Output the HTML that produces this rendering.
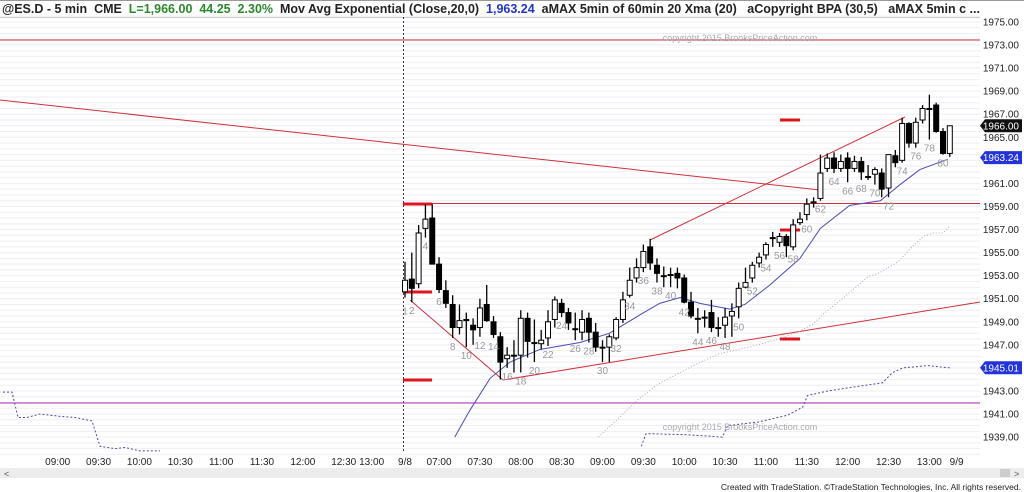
<!DOCTYPE html>
<html><head><meta charset="utf-8"><style>
body{margin:0;background:#fff;width:1024px;height:492px;overflow:hidden;font-family:"Liberation Sans",Arial,sans-serif}
svg{display:block}
text{white-space:pre}
</style></head><body>
<svg id="chart" width="1024" height="492" xmlns="http://www.w3.org/2000/svg">
<rect x="0" y="0" width="1024" height="492" fill="#fff"/>
<g id="grid"></g>
<g id="overlays"></g>
<g id="inds"></g>
<g id="candles"></g>
<g id="labels"></g>
<g id="axes"></g>
<text x="740" y="41" font-size="9" fill="#aaa" text-anchor="middle">copyright 2015 BrooksPriceAction.com</text>
<text x="740" y="430" font-size="9" fill="#aaa" text-anchor="middle">copyright 2015 BrooksPriceAction.com</text>
<rect x="0" y="0" width="1024" height="1" fill="#999"/>
<text x="2" y="13" font-size="12.5" font-weight="bold"><tspan fill="#222">@ES.D - 5 min  CME  </tspan><tspan fill="#2a8a2a">L=1,966.00  44.25  2.30%  </tspan><tspan fill="#222">Mov Avg Exponential (Close,20,0)  </tspan><tspan fill="#2233cc">1,963.24  </tspan><tspan fill="#222">aMAX 5min of 60min 20 Xma (20)   aCopyright BPA (30,5)   aMAX 5min c ...</tspan></text>
<rect x="0" y="468" width="1024" height="10" fill="#ececec"/>
<rect x="1000" y="469" width="10" height="8" fill="#ccc"/>
<text x="4" y="477" font-size="9" fill="#555">&lt;</text>
<text x="1014" y="477" font-size="9" fill="#555">&gt;</text>
<text x="1021" y="490" font-size="8.5" fill="#222" text-anchor="end">Created with TradeStation. ©TradeStation Technologies, Inc. All rights reserved.</text>
</svg>
<script>
const opens  =[1951.6,1952.7,1952.3,1957.1,1958,1954,1951.7,1950.5,1948.5,1949.2,1948.7,1948.5,1950.5,1949,1947.7,1945.8,1946.1,1946.1,1949.3,1947.2,1947.1,1947.6,1949.2,1950.6,1949.8,1948.4,1948.1,1949.3,1948.1,1946.8,1946.8,1947.6,1949.2,1951.3,1952.8,1953.7,1955.5,1953.9,1953,1953.1,1953.2,1952.8,1950.7,1949.3,1949.4,1949.8,1948.5,1948.7,1949.5,1950.3,1952,1952.8,1954.1,1954.8,1956.3,1955.9,1956.4,1955.5,1957.6,1958.3,1959.4,1959.7,1962.3,1963.2,1962.3,1963.2,1962.3,1962.9,1961.6,1961.8,1961.9,1960.6,1963.4,1963,1966.2,1964.5,1966.5,1967.5,1967.8,1965.5,1963.6];
const highs  =[1954.2,1955,1957.4,1959.2,1959.2,1954.6,1952.6,1951.3,1950.5,1949.8,1949.3,1951,1952.2,1949.5,1948.1,1946.8,1947.4,1950,1949.8,1949.2,1948.3,1950,1951.2,1951,1950.2,1949.8,1950,1949.8,1948.9,1947.4,1947.9,1949.4,1951.6,1953.7,1954.5,1955.7,1956.2,1954.5,1953.8,1953.7,1953.7,1953.1,1951.6,1950.2,1950,1950.9,1949.4,1950.2,1950.6,1952.4,1953.7,1954.2,1955,1955.9,1956.8,1956.7,1956.6,1957.9,1958.5,1959.7,1959.8,1963.5,1963.6,1963.7,1963.5,1963.7,1963.4,1963.3,1962.6,1962.4,1962.3,1963.5,1963.9,1966.7,1966.3,1966.7,1967.8,1968.7,1968,1965.8,1966];
const lows   =[1951.1,1950.7,1951.9,1956.3,1954,1951.5,1950.2,1947.6,1947.9,1946.8,1947,1947.7,1949,1947.6,1944,1945,1944.6,1944.6,1945.9,1945.5,1946.6,1946.9,1948.5,1949.4,1948.3,1947.4,1947.4,1947.2,1946.4,1945.5,1945.5,1947.4,1948.9,1951.1,1952.4,1953.3,1953.5,1952.4,1952,1952,1951.9,1950.6,1949.3,1948,1948.5,1948.1,1947.7,1947.6,1947.7,1949.3,1951.9,1952.4,1953.7,1954.4,1955.5,1955.5,1954.6,1955.2,1957.4,1957.8,1958.9,1959.5,1962,1961.9,1962,1961.1,1962,1961.3,1961.3,1960.9,1959.8,1959.8,1962.4,1962.8,1964.1,1964.1,1966.2,1964.8,1965.4,1963.5,1963.3];
const closes =[1952.6,1951.9,1956.7,1957.9,1954,1951.8,1950.6,1948.5,1949.1,1949.1,1948.3,1950.2,1949.1,1947.9,1945.5,1946.1,1946.1,1949.3,1947.3,1947.2,1947.4,1949,1950.9,1949.8,1948.9,1948.4,1949.2,1948.1,1946.8,1946.8,1947.7,1949.2,1950.9,1952.6,1953.7,1955.1,1954.1,1953.2,1953,1953.1,1952.8,1950.7,1949.5,1949.3,1949.4,1948.5,1948.5,1949.4,1949.9,1951.9,1952.4,1953.9,1954.6,1955.7,1956.3,1956.4,1955.6,1957.4,1957.9,1959.2,1959.4,1961.9,1963.2,1962.3,1962.9,1962.3,1962.9,1962,1961.6,1962.2,1960.5,1963.5,1962.8,1966.2,1964.5,1966.3,1967.5,1967.5,1965.5,1963.6,1966];
const emaBars=[8.3,10.5,13.5,16.4,20.8,26.7,31,35.5,38.4,41.4,44.3,48.7,50.9,54.6,59,62,66.3,70.8,73.7,76.6,80.7];
const emaVals=[1939,1941.3,1944.1,1945.5,1946.6,1947.2,1948,1949.6,1950.6,1951.1,1950.6,1950.1,1950.5,1952.2,1954.5,1957.1,1959.1,1959.5,1960.9,1962.2,1963.1];
const htfBars=[29.4,32.3,35.3,38.2,41.1,44,47,49.9,52.8,55.8,58.7,60.9,62.7,64.6,66.8,69,70.5,73.4,75.3,77.1,78.6,80,81];
const htfVals=[1939,1940.6,1942.3,1943.6,1944.5,1945.4,1946.2,1946.6,1947,1947.5,1948.1,1948.8,1949.8,1950.7,1951.8,1952.9,1953.2,1954.2,1955.4,1956.4,1956.7,1956.7,1957.3];
const blueLeftX=[3,12,18,27,40,60,75,92,100,115,125,140,160];
const blueLeftVals=[1942.9,1942.9,1940.7,1940.7,1941,1940.8,1940.7,1940.4,1938.2,1938,1938.1,1937.8,1937.8];
const blueBars=[35.7,36.4,42.5,47.6,48.4,52.8,57.2,59.4,60.1,63.1,67.5,71.1,72.6,74.1,77.8,81];
const blueVals=[1938.2,1939.3,1939.2,1939,1940,1940.3,1940.9,1941.6,1942.6,1943,1943.4,1943.7,1944.6,1945,1945.2,1945];
const priceTicks=[1975,1973,1971,1969,1967,1965,1963,1961,1959,1957,1955,1953,1951,1949,1947,1945,1943,1941,1939];
const timeLabels=["09:00","09:30","10:00","10:30","11:00","11:30","12:00","12:30","13:00","9/8","07:00","07:30","08:00","08:30","09:00","09:30","10:00","10:30","11:00","11:30","12:00","12:30","13:00","9/9"];
const timeBars=[-50,-44,-38,-32,-26,-20,-14,-8,-3.9,1,6,12,18,24,30,36,42,48,54,60,66,72,78,82];

const NS="http://www.w3.org/2000/svg";
const R=980;
const Y=p=>22+(1975-p)*11.53;
const X=b=>405+(b-1)*6.81;
function mk(parent,tag,attrs){const e=document.createElementNS(NS,tag);for(const k in attrs)e.setAttribute(k,attrs[k]);document.getElementById(parent).appendChild(e);return e;}
for(let p=1975.5;p>=1937.5;p-=0.5){const g=mk('grid','line',{x1:0,x2:R,y1:Y(p),y2:Y(p),stroke:'#eeeef4','stroke-width':1});

}
mk('grid','line',{x1:0,x2:R,y1:17.5,y2:17.5,stroke:'#ccc'});
mk('grid','line',{x1:403.5,x2:403.5,y1:17,y2:452,stroke:'#333','stroke-dasharray':'2,2'});
const L=(x1,y1,x2,y2,c,w,n)=>{const e=mk('overlays','line',{x1,y1,x2,y2,stroke:c,'stroke-width':w});

};
L(0,40,R,40,'#d0303a',1,'resistance-line-1973');
L(0,403,R,403,'#c050c0',1.2,'support-line-1942');
L(403,203.5,R,203.5,'#d0303a',1,'open-high-line');
L(0,100,820,190,'#d0303a',1,'descending-trendline');
L(410,300,503,380,'#d0303a',1,'wedge-leg');
L(503,380,R,302,'#d0303a',1,'bull-trendline');
L(650,240,905,117,'#d0303a',1,'channel-line');
[[403,432,204],[403,432,292],[403,432,380],[780,800,120],[780,800,230],[780,800,339]].forEach(a=>L(a[0],a[2],a[1],a[2],'#e0141e',3,'measured-move-marker'));
const poly=(pts,c,w,dash,n)=>{const e=mk('inds','polyline',{points:pts.map(p=>p.join(',')).join(' '),fill:'none',stroke:c,'stroke-width':w,'stroke-dasharray':dash||''});

};
poly(emaBars.map((b,i)=>[X(b),Y(emaVals[i])]),'#4a4ab8',1,'','ema-20');
poly(htfBars.map((b,i)=>[X(b),Y(htfVals[i])]),'#aaa',1,'1,2','ma-60min-dotted');
poly(blueLeftX.map((x,i)=>[x,Y(blueLeftVals[i])]),'#4a4aa8',1,'2,2','ma-5min-dotted-prevday');
poly(blueBars.map((b,i)=>[X(b),Y(blueVals[i])]),'#4a4aa8',1,'2,2','ma-5min-dotted');
for(let i=0;i<opens.length;i++){const x=X(i+1),o=opens[i],c=closes[i];
const w=mk('candles','line',{x1:x,x2:x,y1:Y(highs[i]),y2:Y(lows[i]),stroke:'#000','stroke-width':1.3});


const top=Y(Math.max(o,c)),h=Math.max(Math.abs(Y(o)-Y(c)),1);
const b=mk('candles','rect',{x:x-2.5,y:top,width:5,height:h,fill:c>=o?'#fff':'#000',stroke:'#000','stroke-width':1});

}
for(let n=2;n<=80;n+=2){const t=mk('labels','text',{x:X(n),y:Y(lows[n-1])+12,'font-size':10,fill:'#999','text-anchor':'middle'});t.textContent=n;

}
{const t=mk('labels','text',{x:X(1),y:Y(lows[0])+17,'font-size':10,fill:'#999','text-anchor':'middle'});t.textContent='1';}
priceTicks.forEach(p=>{const t=mk('axes','text',{x:1019,y:Y(p)+3.5,'font-size':10,fill:'#222','text-anchor':'end'});t.textContent=p.toFixed(2);

});
const tag=(p,txt,bg,n)=>{const yy=Y(p);const r=mk('axes','path',{d:`M980 ${yy} L985 ${yy-6.5} L1022 ${yy-6.5} L1022 ${yy+6.5} L985 ${yy+6.5}Z`,fill:bg});


const t=mk('axes','text',{x:1019,y:yy+3.5,'font-size':10,fill:'#fff','text-anchor':'end'});t.textContent=txt;};
tag(closes[closes.length-1],'1966.00','#111','last-price-tag');
tag(emaVals[emaVals.length-1]+0.14,'1963.24','#2233dd','ema-value-tag');
tag(blueVals[blueVals.length-1]+0.01,'1945.01','#2233dd','ma-value-tag');
timeLabels.forEach((s,i)=>{const t=mk('axes','text',{x:X(timeBars[i]),y:465,'font-size':10,fill:'#222','text-anchor':'middle'});t.textContent=s;

});
</script>
</body></html>
